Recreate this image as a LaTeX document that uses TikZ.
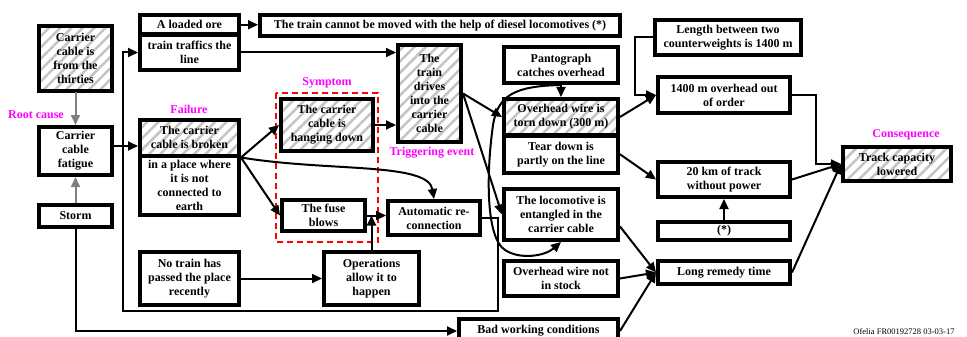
\documentclass[tikz,border=0pt]{standalone}
\usepackage{fontspec}
\setmainfont{Liberation Serif}
\definecolor{ofmagenta}{HTML}{FF00FF}
\definecolor{ofred}{HTML}{FF0000}
\definecolor{ofgray}{HTML}{808080}
\definecolor{ofhatch}{HTML}{C4C4C4}
\usetikzlibrary{arrows.meta,positioning,patterns.meta}

\begin{document}
\begin{tikzpicture}[
  x=1pt, y=-1pt,
  box/.style 2 args={draw, line width=4pt, fill=white, inner sep=1pt,
    font=\bfseries\fontsize{12}{14}\selectfont, align=center,
    minimum width=#1, minimum height=#2},
  hatch/.style 2 args={box={#1}{#2},
    pattern={Lines[angle=45,distance=8pt,line width=2.5pt]}, pattern color=ofhatch},
  lbl/.style={text=ofmagenta, font=\bfseries\fontsize{12}{14}\selectfont},
  arr/.style={-{Triangle[length=10pt,width=9pt]}, line width=2pt},
  grayarr/.style={arr, ofgray},
  symptom/.style={draw=ofred, line width=2pt, dash pattern=on 6pt off 4pt}
]
  \useasboundingbox (0,0) rectangle (967,337);
  \clip (0,0) rectangle (967,337);

  % Causes
  \node[hatch={73}{65}] (thirties) at (75.5,58.5) {Carrier\\cable is\\from the\\thirties};
  \node[box={73}{48}] (fatigue) at (75.5,151) {Carrier\\cable\\fatigue};
  \node[box={73}{22}] (storm) at (75.5,216) {Storm};
  \node[box={99}{19.5}] (ore) at (189.5,24.75) {A loaded ore};
  \node[box={99}{35}] (traffic) at (189.5,52.5) {train traffics the\\line};
  \node[hatch={99}{35.5}] (brokentop) at (189.5,137.75) {The carrier\\cable is broken};
  \node[box={99}{59}] (brokenbot) at (189.5,185.5) {in a place where\\it is not\\connected to\\earth};
  \node[box={99}{53}] (notrain) at (189.5,278.5) {No train has\\passed the place\\recently};

  % Symptom and triggering event
  \draw[symptom] (276,93) rectangle (378,242);
  \node[hatch={92}{52}] (hanging) at (327,125) {The carrier\\cable is\\hanging down};
  \node[box={83}{31}] (fuse) at (323.5,215.5) {The fuse\\blows};
  \node[box={92}{34}] (auto) at (434,218) {Automatic re-\\connection};
  \node[box={95}{53}] (ops) at (371.5,278.5) {Operations\\allow it to\\happen};
  \node[hatch={63}{97}] (drives) at (429.5,93.5) {The\\train\\drives\\into the\\carrier\\cable};
  \node[box={360}{21}] (cannot) at (440,25.5) {The train cannot be moved with the help of diesel locomotives (*)};

  % Effects
  \node[box={114}{36}] (pant) at (561,65) {Pantograph\\catches overhead};
  \node[hatch={114}{36}] (torn) at (561,117) {Overhead wire is\\torn down (300 m)};
  \node[box={114}{37.5}] (tear) at (561,154.25) {Tear down is\\partly on the line};
  \node[box={114}{51}] (loco) at (561,214.5) {The locomotive is\\entangled in the\\carrier cable};
  \node[box={114}{35}] (stock) at (561,278.5) {Overhead wire not\\in stock};
  \node[box={159}{24}] (bad) at (538.5,331) {Bad working conditions};
  \node[box={146}{35}] (length) at (728,37.5) {Length between two\\counterweights is 1400 m};
  \node[box={132}{36}] (oorder) at (724,95) {1400 m overhead out\\of order};
  \node[box={132}{35}] (nopower) at (724,179.5) {20 km of track\\without power};
  \node[box={132}{18}] (star) at (724,231) {(*)};
  \node[box={132}{23}] (remedy) at (724,272.5) {Long remedy time};
  \node[hatch={108}{34}] (capacity) at (897,164) {Track capacity\\lowered};

  % Labels
  \node[lbl] (rootlbl) at (36,115) {Root cause};
  \node[lbl] (faillbl) at (189,109) {Failure};
  \node[lbl] (symplbl) at (327,83) {Symptom};
  \node[lbl] (triglbl) at (432,153) {Triggering event};
  \node[lbl] (conslbl) at (906,135) {Consequence};
  \node[font=\fontsize{8.5}{10}\selectfont] (stamp) at (904,332) {Ofelia FR00192728 03-03-17};

  % Arrows
  \draw[grayarr] (thirties) -- (fatigue);
  \draw[grayarr] (storm) -- (fatigue);
  \draw[arr] ([yshift=5pt]fatigue.east) -- ([yshift=5pt]fatigue.east -| brokentop.west);
  \draw[arr] (storm.south) |- (bad.west);
  \draw[arr] (ore.east) -- (ore.east -| cannot.west);
  \draw[arr] (traffic.east) -- (traffic.east -| drives.west);
  \draw[arr] (brokentop.south east) -- (hanging.west);
  \draw[arr] (brokentop.south east) -- (fuse.west);
  \draw[arr] (brokentop.south east) .. controls (330,172) and (428,162) .. (auto.north);
  \draw[arr] (hanging.east) -- (hanging.east -| drives.west);
  \draw[arr] (fuse.east) -- (fuse.east -| auto.west);
  \draw[arr] (ops.north) -- (ops.north |- fuse.east);
  \draw[arr] (notrain) -- (ops);
  \draw[arr] (auto.east) -- (498,218) |- (123,311) |- (traffic.west);
  \draw[arr] (drives.east) -- (torn.west);
  \draw[arr] (drives.east) -- (loco.west);
  \draw[arr] (pant) -- (torn);
  \draw[arr] (pant.south) .. controls (515,86) and (498,95) .. (493,125)
    .. controls (486,175) and (486,238) .. (505,250)
    .. controls (520,260) and (545,256) .. (loco.south);
  \draw[arr] (torn.east) -- (oorder.west);
  \draw[arr] (length.west) -- ++(-18,0) |- (oorder.west);
  \draw[arr] (tear.east) -- (nopower.west);
  \draw[arr] (star) -- (nopower);
  \draw[arr] ([yshift=-12pt]loco.east) -- (remedy.west);
  \draw[arr] (stock.east) -- (remedy.west);
  \draw[arr] (bad.east) -- (remedy.west);
  \draw[arr] (oorder.east) -- ++(24,0) |- (capacity.west);
  \draw[arr] (nopower.east) -- (capacity.west);
  \draw[arr] (remedy.east) -- (capacity.west);
\end{tikzpicture}
\end{document}
